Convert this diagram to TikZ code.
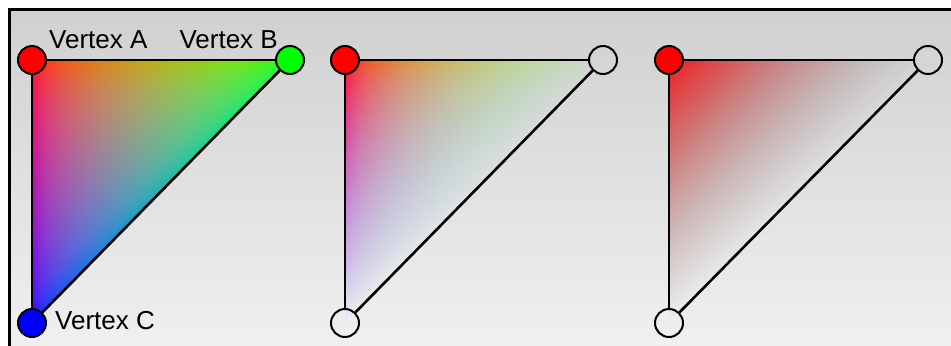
\documentclass[tikz,border=0pt]{standalone}
\usepackage{fontspec}
\setmainfont{Liberation Sans}
\pgfdeclarelayer{bglayer}
\pgfsetlayers{bglayer,main}
\definecolor{bgtop}{RGB}{208,208,208}
\definecolor{bgbot}{RGB}{240,240,240}
\definecolor{vred}{RGB}{255,0,0}
\definecolor{vgreen}{RGB}{0,255,0}
\definecolor{vblue}{RGB}{0,0,255}
\pgfdeclarefunctionalshading{trirgb}{\pgfpointorigin}{\pgfpoint{100bp}{100bp}}{}{
  0.02 mul 0.5 sub exch 0.02 mul 0.5 sub exch
  1 index 1 index exch sub dup abs add 2 div sqrt
  3 1 roll
  1 exch sub dup abs add 2 div sqrt
  exch dup abs add 2 div sqrt
  exch
}
\pgfdeclarefunctionalshading{trifade}{\pgfpointorigin}{\pgfpoint{100bp}{100bp}}{}{
  0.02 mul 0.5 sub exch 0.02 mul 0.5 sub exch
  1 index 1 index exch sub dup abs add 2 div
  1 index -0.09823 mul 0.93296 add
  4 2 roll
  1 index 1 index exch sub dup abs add 2 div sqrt
  3 1 roll
  1 exch sub dup abs add 2 div sqrt
  exch dup abs add 2 div sqrt
  exch
  3 index sub 4 index mul 3 index add
  3 1 roll
  3 index sub 4 index mul 3 index add
  3 1 roll
  3 index sub 4 index mul 3 index add
  3 1 roll
  5 -2 roll pop pop
}
\pgfdeclarefunctionalshading{trired}{\pgfpointorigin}{\pgfpoint{100bp}{100bp}}{}{
  0.02 mul 0.5 sub exch 0.02 mul 0.5 sub exch
  dup -0.09823 mul 0.93296 add
  3 1 roll exch sub dup abs add 2 div
  0.45 1 index mul 0.5 add
  2 index sub 1 index mul 2 index add
  -0.4 2 index mul 0.5 add
  3 index sub 2 index mul 3 index add
  -0.4 3 index mul 0.5 add
  4 index sub 3 index mul 4 index add
  5 -2 roll pop pop
}
\tikzset{
  vtx/.style={circle, draw=black, line width=2bp, minimum size=28bp, inner sep=0pt},
  edge/.style={draw=black, line width=2.6bp},
  lbl/.style={inner sep=0pt, font=\fontsize{26bp}{30bp}\selectfont, text=black}
}
\begin{document}
\begin{tikzpicture}[x=1bp, y=-1bp]
\useasboundingbox (0,0) rectangle (951,345);
% vertex positions
\coordinate (a1) at (32,60);  \coordinate (b1) at (290,60);  \coordinate (c1) at (32,323);
\coordinate (a2) at (345,60); \coordinate (b2) at (603,60);  \coordinate (c2) at (345,323);
\coordinate (a3) at (669,60); \coordinate (b3) at (928,60);  \coordinate (c3) at (669,323);
\begin{pgfonlayer}{bglayer}
  \fill[white] (0,0) rectangle (951,345);
  \shade[top color=bgtop, bottom color=bgbot] (9,9) rectangle (951,345);
  \draw[line width=3bp] (9,360) -- (9,9) -- (965,9);
  \shade[shading=trirgb] (a1) -- (b1) -- (c1) -- cycle;
  \shade[shading=trifade] (a2) -- (b2) -- (c2) -- cycle;
  \shade[shading=trired] (a3) -- (b3) -- (c3) -- cycle;
\end{pgfonlayer}
% triangle 1
\node[vtx, fill=vred]   (A1) at (a1) {};
\node[vtx, fill=vgreen] (B1) at (b1) {};
\node[vtx, fill=vblue]  (C1) at (c1) {};
\draw[edge] (A1) -- (B1);
\draw[edge] (B1) -- (C1);
\draw[edge] (C1) -- (A1);
% triangle 2
\node[vtx, fill=vred] (A2) at (a2) {};
\node[vtx] (B2) at (b2) {};
\node[vtx] (C2) at (c2) {};
\draw[edge] (A2) -- (B2);
\draw[edge] (B2) -- (C2);
\draw[edge] (C2) -- (A2);
% triangle 3
\node[vtx, fill=vred] (A3) at (a3) {};
\node[vtx] (B3) at (b3) {};
\node[vtx] (C3) at (c3) {};
\draw[edge] (A3) -- (B3);
\draw[edge] (B3) -- (C3);
\draw[edge] (C3) -- (A3);
% labels
\node[lbl, anchor=base west] (labA) at (49,48) {Vertex A};
\node[lbl, anchor=base east] (labB) at (278,48) {Vertex B};
\node[lbl, anchor=base west] (labC) at (55,329) {Vertex C};
\end{tikzpicture}
\end{document}
